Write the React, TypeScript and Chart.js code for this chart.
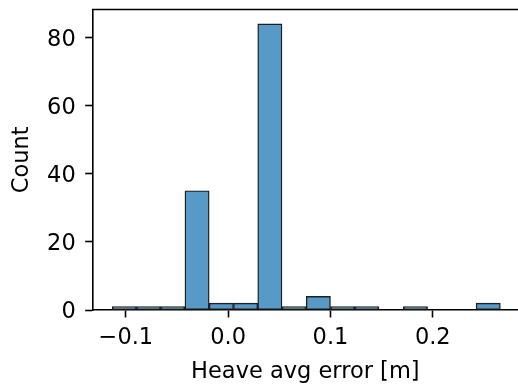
import React, { useEffect, useRef } from "react";
import { Chart, registerables } from "chart.js";

Chart.register(...registerables);

// Histogram bin edges (m) and counts
const binEdges = [
  -0.1134, -0.0897, -0.066, -0.0423, -0.0185, 0.0052, 0.0289, 0.0526, 0.0763,
  0.1, 0.1237, 0.1474, 0.1712, 0.1949, 0.2186, 0.2423, 0.2661,
];
const counts = [1, 1, 1, 35, 2, 2, 84, 1, 4, 1, 1, 0, 1, 0, 0, 2];
const xTicks = [-0.1, 0.0, 0.1, 0.2];
const yTicks = [0, 20, 40, 60, 80];
const xLabel = "Heave avg error [m]";
const yLabel = "Count";

const FONT = "DejaVu Sans";
const FS = 22.5;

function fmtX(v: number) {
  const s = Math.abs(v).toFixed(1);
  return v < -1e-9 ? "\u2212" + s : s;
}

const topSpine = {
  id: "topSpine",
  afterDraw(chart: any) {
    const { ctx, chartArea } = chart;
    ctx.save();
    ctx.strokeStyle = "#000";
    ctx.lineWidth = 1.6;
    ctx.beginPath();
    ctx.moveTo(chartArea.left - 0.8, chartArea.top);
    ctx.lineTo(chartArea.right + 2, chartArea.top);
    ctx.stroke();
    ctx.restore();
  },
};

export default function App() {
  const ref = useRef<HTMLCanvasElement | null>(null);
  useEffect(() => {
    if (!ref.current) return;
    const data = counts.map((c, i) => ({
      x: (binEdges[i] + binEdges[i + 1]) / 2,
      y: c,
    }));
    const chart = new Chart(ref.current, {
      type: "bar",
      data: {
        datasets: [
          {
            data: data as any,
            backgroundColor: "#5799c7",
            borderColor: "#1f1f1f",
            borderWidth: 1.4,
            barPercentage: 1,
            categoryPercentage: 1,
            borderSkipped: false,
          } as any,
        ],
      },
      options: {
        responsive: false,
        animation: false,
        events: [],
        layout: { padding: { top: 9.5, right: 0, bottom: 0, left: 0 } },
        plugins: { legend: { display: false }, tooltip: { enabled: false } },
        scales: {
          x: {
            type: "linear",
            offset: false,
            min: -0.1324,
            max: 0.2833,
            afterFit: (s: any) => {
              s.height = 76;
              s.paddingLeft = 0;
              s.paddingRight = 0;
            },
            afterBuildTicks: (s: any) => {
              s.ticks = xTicks.map((v) => ({ value: v }));
            },
            grid: {
              offset: false,
              drawOnChartArea: false,
              drawTicks: true,
              tickLength: 7.5,
              tickWidth: 1.6,
              tickColor: "#000",
            },
            border: { display: true, color: "#000", width: 1.6 },
            ticks: {
              autoSkip: false,
              maxRotation: 0,
              includeBounds: false,
              padding: 7,
              color: "#000",
              font: { family: FONT, size: FS, lineHeight: 1.2 },
              callback: (v: any) => fmtX(Number(v)),
            },
            title: {
              display: true,
              text: xLabel,
              color: "#000",
              padding: { top: 0, bottom: 0 },
              font: { family: FONT, size: FS, lineHeight: 1.2 },
            },
          },
          y: {
            type: "linear",
            min: 0,
            max: 88.2,
            afterFit: (s: any) => {
              s.width = 92.7;
              s.paddingTop = 0;
              s.paddingBottom = 0;
            },
            afterBuildTicks: (s: any) => {
              s.ticks = yTicks.map((v) => ({ value: v }));
            },
            grid: {
              drawOnChartArea: false,
              drawTicks: true,
              tickLength: 7.5,
              tickWidth: 1.6,
              tickColor: "#000",
            },
            border: { display: true, color: "#000", width: 1.6 },
            ticks: {
              autoSkip: false,
              includeBounds: false,
              padding: 9.5,
              labelOffset: 2.5,
              color: "#000",
              font: { family: FONT, size: FS, lineHeight: 1.2 },
              callback: (v: any) => String(v),
            },
            title: {
              display: true,
              text: yLabel,
              color: "#000",
              padding: { top: 8.5, bottom: 0 },
              font: { family: FONT, size: FS, lineHeight: 1.2 },
            },
          },
        },
      },
      plugins: [topSpine],
    });
    return () => chart.destroy();
  }, []);
  return (
    <div style={{ position: "fixed", left: 0, top: 0, width: 518, height: 386, background: "#fff" }}>
      <canvas ref={ref} width={518} height={386} style={{ display: "block", width: 518, height: 386 }} />
    </div>
  );
}
